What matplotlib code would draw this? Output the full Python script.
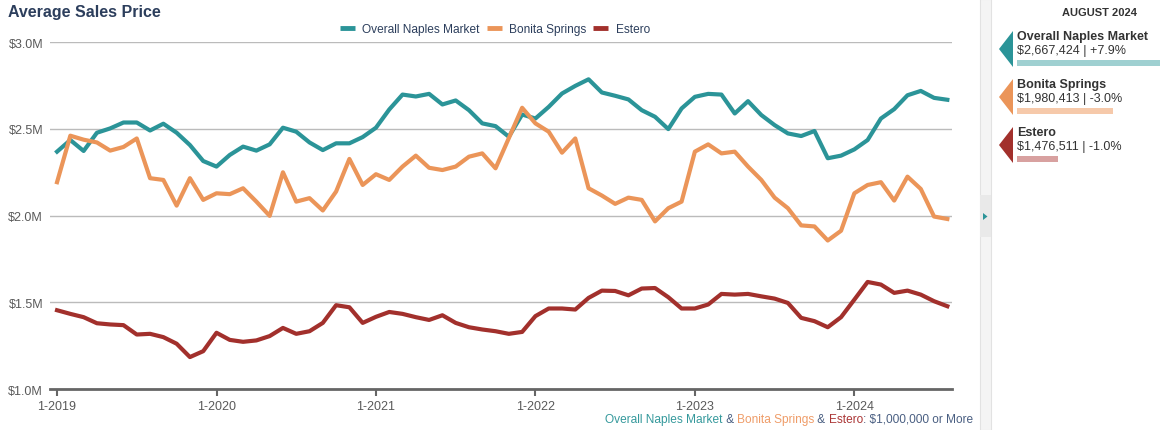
import numpy as np
import pandas as pd
import matplotlib
matplotlib.use("Agg")
import matplotlib.pyplot as plt
from matplotlib.patches import Polygon, Rectangle

plt.rcParams['font.family'] = ['Liberation Sans', 'DejaVu Sans']

# monthly average sales price, Jan 2019 - Aug 2024 ($M)
months = pd.date_range("2019-01-01", "2024-08-01", freq="MS")
naples = [2.368, 2.435, 2.372, 2.477, 2.502, 2.536, 2.536, 2.490, 2.529, 2.477, 2.406, 2.314,
          2.282, 2.349, 2.397, 2.374, 2.410, 2.506, 2.483, 2.421, 2.377, 2.416, 2.416, 2.452,
          2.506, 2.611, 2.697, 2.686, 2.701, 2.640, 2.663, 2.607, 2.531, 2.515, 2.454, 2.582,
          2.559, 2.626, 2.703, 2.747, 2.785, 2.709, 2.690, 2.669, 2.607, 2.569, 2.498, 2.617,
          2.684, 2.701, 2.697, 2.588, 2.659, 2.579, 2.521, 2.473, 2.458, 2.487, 2.330, 2.345,
          2.381, 2.435, 2.559, 2.613, 2.693, 2.718, 2.678, 2.667]
bonita = [2.192, 2.460, 2.437, 2.421, 2.374, 2.395, 2.444, 2.215, 2.205, 2.057, 2.215, 2.090,
          2.128, 2.123, 2.157, 2.080, 1.998, 2.249, 2.080, 2.100, 2.029, 2.138, 2.326, 2.176,
          2.238, 2.205, 2.282, 2.345, 2.275, 2.262, 2.282, 2.339, 2.358, 2.272, 2.446, 2.621,
          2.531, 2.483, 2.362, 2.444, 2.157, 2.115, 2.067, 2.103, 2.090, 1.966, 2.042, 2.080,
          2.368, 2.410, 2.358, 2.368, 2.282, 2.205, 2.103, 2.042, 1.943, 1.937, 1.856, 1.912,
          2.128, 2.176, 2.192, 2.086, 2.224, 2.153, 1.994, 1.980]
estero = [1.454, 1.433, 1.414, 1.379, 1.372, 1.368, 1.314, 1.318, 1.299, 1.261, 1.184, 1.218,
          1.324, 1.283, 1.272, 1.280, 1.305, 1.352, 1.318, 1.333, 1.381, 1.483, 1.471, 1.381,
          1.416, 1.444, 1.433, 1.414, 1.398, 1.425, 1.381, 1.356, 1.343, 1.333, 1.318, 1.329,
          1.420, 1.464, 1.464, 1.458, 1.525, 1.567, 1.565, 1.540, 1.579, 1.582, 1.529, 1.464,
          1.464, 1.487, 1.548, 1.544, 1.548, 1.534, 1.521, 1.496, 1.410, 1.391, 1.356, 1.414,
          1.515, 1.617, 1.602, 1.554, 1.567, 1.544, 1.506, 1.477]

series_names = ["Overall Naples Market", "Bonita Springs", "Estero"]
colors = ["#2b9498", "#eb9559", "#a2302c"]
light_colors = ["#9fd0d1", "#f6c9aa", "#d8a1a0"]
latest_values = [2667424, 1980413, 1476511]
changes = ["+7.9%", "-3.0%", "-1.0%"]
y_ticks = [1.0, 1.5, 2.0, 2.5, 3.0]
x_tick_years = [2019, 2020, 2021, 2022, 2023, 2024]

W, H = 1160, 431
fig = plt.figure(figsize=(W / 100, H / 100), dpi=100)
ax = fig.add_axes([50 / W, 1 - 390 / H, 902 / W, 347 / H])

x = np.arange(len(months))
for vals, name, c in zip([naples, bonita, estero], series_names, colors):
    ax.plot(x, vals, color=c, lw=3, label=name, solid_joinstyle='round', zorder=3)

ax.set_ylim(1.0, 3.0)
ax.set_xlim(-0.53, len(months) - 0.65)
ax.set_yticks(y_ticks)
ax.set_yticklabels([f"${v:.1f}M" for v in y_ticks], color="#5a5a5a", fontsize=9)
ax.grid(axis='y', color="#bbbbbb", lw=1)
ax.set_axisbelow(True)
xt = [i for i, d in enumerate(months) if d.month == 1]
ax.set_xticks(xt)
ax.set_xticklabels([f"1-{y}" for y in x_tick_years], color="#5a5a5a", fontsize=9)
for s in ['left', 'right', 'top']:
    ax.spines[s].set_visible(False)
ax.spines['bottom'].set_color("#666666")
ax.spines['bottom'].set_linewidth(2)
ax.tick_params(axis='y', length=0, pad=5)
ax.tick_params(axis='x', length=5, width=1.5, color="#666666", pad=3)

fig.text(8 / W, 1 - 12 / H, "Average Sales Price", fontsize=11.5, fontweight='bold',
         color="#2c3e5c", va='center', ha='left')
leg = fig.legend(loc='center', bbox_to_anchor=(495 / W, 1 - 30 / H), ncol=3, frameon=False,
                 fontsize=8.6, handlelength=1.25, handletextpad=0.6, columnspacing=0.6,
                 labelcolor="#2c3e5c")
for lh in leg.get_lines():
    lh.set_linewidth(3.5)
    lh.set_solid_capstyle('butt')

# caption bottom right, built right to left
renderer = fig.canvas.get_renderer()
pieces = [("Overall Naples Market", "#35999c"), (" & ", "#4a5f82"), ("Bonita Springs", "#ef9c68"),
          (" & ", "#4a5f82"), ("Estero", "#ab3636"), (": $1,000,000 or More", "#4a5f82")]
xr = 973
for txt, c in reversed(pieces):
    t = fig.text(xr / W, 1 - 420 / H, txt, color=c, fontsize=8.6, ha='right', va='center')
    bb = t.get_window_extent(renderer=renderer)
    xr -= bb.width

# right side panel in pixel coordinates
ov = fig.add_axes([0, 0, 1, 1], zorder=-1)
ov.set_xlim(0, W)
ov.set_ylim(H, 0)
ov.axis('off')
ov.add_patch(Rectangle((980, 0), 11, H, facecolor="#f4f4f4", edgecolor="#e2e2e2", lw=0.8))
ov.add_patch(Rectangle((980, 196), 11, 42, facecolor="#e9e9e9", edgecolor="none"))
ov.add_patch(Polygon([(983, 214), (983, 221), (987.5, 217.5)], closed=True, facecolor=colors[0]))

ov.text(1100, 13, "AUGUST 2024", fontsize=8, fontweight='bold', color="#333333",
        ha='center', va='center')
for i, (name, val, chg) in enumerate(zip(series_names, latest_values, changes)):
    top = 32 + i * 48
    ov.add_patch(Polygon([(1013, top), (1013, top + 36), (999, top + 18)], closed=True,
                         facecolor=colors[i], edgecolor='none'))
    ov.text(1017, top + 5, name, fontsize=9, fontweight='bold', color="#333333", va='center')
    ov.text(1017, top + 19, f"${val:,} | {chg}", fontsize=9, color="#333333", va='center')
    ov.add_patch(Rectangle((1017, top + 29), (val / 1e6 - 1.102) * 109.3, 5.5,
                           facecolor=light_colors[i], edgecolor='none'))

fig.savefig("out.png", dpi=100)
